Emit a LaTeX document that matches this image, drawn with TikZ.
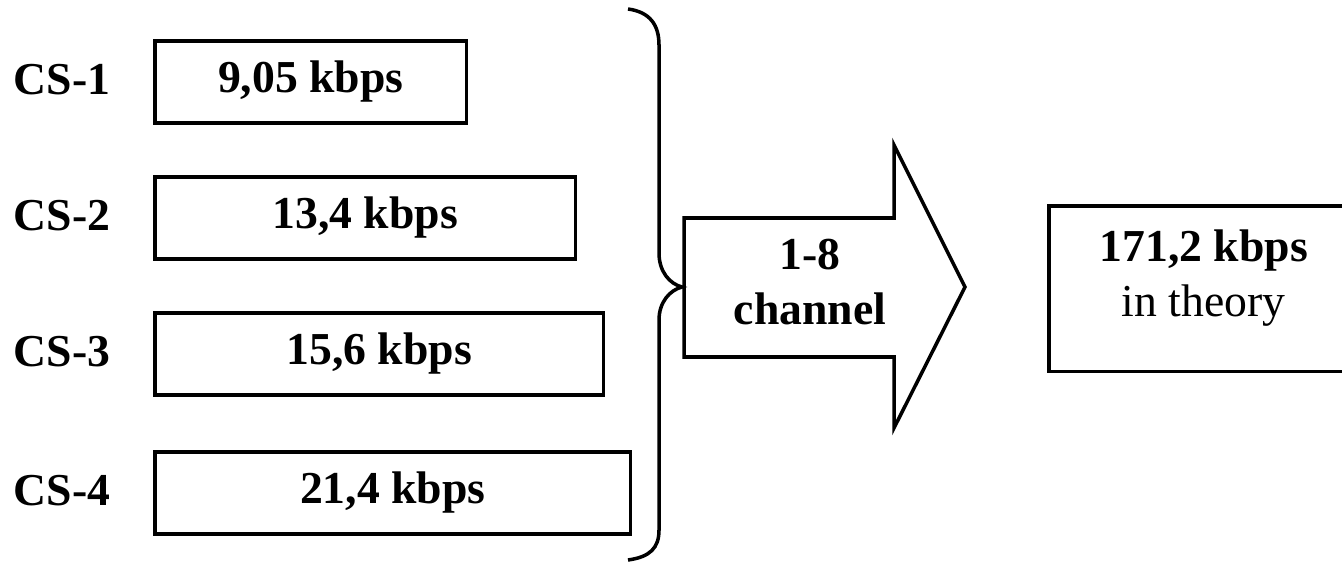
\documentclass[tikz,border=0pt]{standalone}
\usepackage{fontspec}
\setmainfont{Liberation Serif}
\usetikzlibrary{positioning}

\begin{document}
\begin{tikzpicture}[
    x=0.02cm, y=-0.02cm,
    line width=2pt,
    big/.style={font=\fontsize{26}{31}\selectfont\bfseries},
    cslabel/.style={big, anchor=base},
    rate/.style={rectangle, draw, big, anchor=west, minimum height=1.64cm, inner sep=0pt},
    total/.style={rectangle, draw, anchor=north west, minimum width=6.2cm, minimum height=3.32cm,
        align=center, font=\fontsize{26}{31}\selectfont},
]
\useasboundingbox (0,0) rectangle (1342,563);
\clip (0,0) rectangle (1342,563);

% ============ Coding schemes ============
\node[rate, minimum width=6.24cm] (r1) at (153, 82) {9,05 kbps};
\node[rate, minimum width=8.42cm] (r2) at (153,218) {13,4 kbps};
\node[rate, minimum width=8.98cm] (r3) at (153,354) {15,6 kbps};
\node[rate, minimum width=9.52cm] (r4) at (153,493) {21,4 kbps};

\node[cslabel] (cs1) at (62, 95) {CS-1};
\node[cslabel] (cs2) at (62,231) {CS-2};
\node[cslabel] (cs3) at (62,367) {CS-3};
\node[cslabel] (cs4) at (62,506) {CS-4};

% Brace
\draw (628,9) .. controls (650,12) and (659,25) .. (659,45)
    -- (659,253) .. controls (659,272) and (670,284) .. (682,287)
    .. controls (670,290) and (659,302) .. (659,320)
    -- (659,530) .. controls (659,548) and (650,557) .. (628,560);

% ============ Channel arrow ============
\draw (684,218) -- (894,218) -- (894,145) -- (965,287) -- (894,428)
    -- (894,357) -- (684,357) -- cycle;
\node[big, align=center] (chan) at (810,282) {1-8\\channel};

% ============ Result ============
\node[total] (res) at (1047,204) {\textbf{171,2 kbps}\\in theory\\[-13.5pt]};

\end{tikzpicture}
\end{document}
